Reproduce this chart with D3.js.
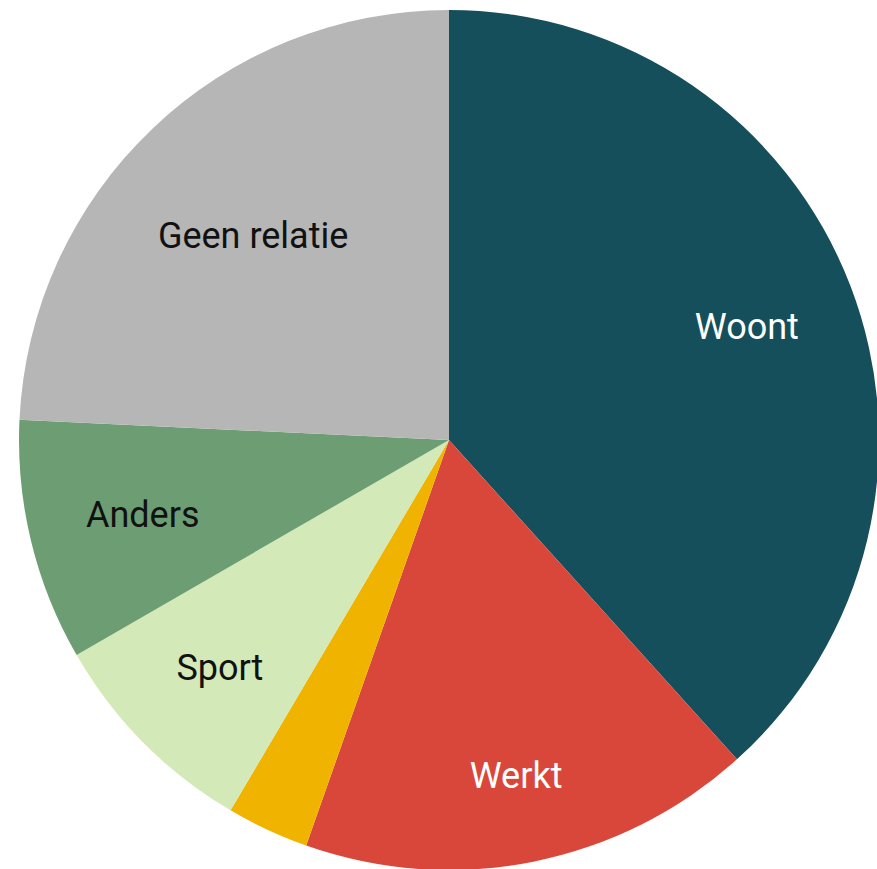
<!DOCTYPE html>
<html>
<head>
<meta charset="utf-8">
<script src="https://cdn.jsdelivr.net/npm/d3@7"></script>
<style>
  html, body { margin: 0; padding: 0; background: #ffffff; }
  svg { display: block; }
</style>
</head>
<body>
<svg id="chart" width="877" height="869"></svg>
<script>
// Data (clockwise from 12 o'clock)
const categories = ["Woont", "Werkt", "Overig", "Sport", "Anders", "Geen relatie"];
const values = [38.4, 17.1, 3.1, 8.2, 9.1, 24.3];
const labels = ["Woont", "Werkt", "", "Sport", "Anders", "Geen relatie"];
const colors = ["#154f5b", "#d9473a", "#f0b400", "#d4e9b8", "#6d9e73", "#b6b6b6"];
const labelColors = ["#ffffff", "#ffffff", "#000000", "#111111", "#111111", "#111111"];

// Layout
const width = 877, height = 869;
const cx = 449, cy = 440, R = 430;
const labelRadiusFactor = [0.742, 0.795, 0.74, 0.75, 0.733, 0.66];

const svg = d3.select("#chart");
const g = svg.append("g").attr("transform", `translate(${cx},${cy})`);

const data = categories.map((c, i) => ({ category: c, value: values[i], label: labels[i], i }));

const pie = d3.pie().value(d => d.value).sort(null);
const arcs = pie(data);
const arc = d3.arc().innerRadius(0).outerRadius(R);

g.selectAll("path.slice")
  .data(arcs)
  .join("path")
  .attr("class", "slice")
  .attr("d", arc)
  .attr("fill", d => colors[d.data.i]);

g.selectAll("text.label")
  .data(arcs.filter(d => d.data.label))
  .join("text")
  .attr("class", "label")
  .attr("transform", d => {
    const r = R * labelRadiusFactor[d.data.i];
    const a = (d.startAngle + d.endAngle) / 2;
    return `translate(${r * Math.sin(a)},${-r * Math.cos(a)})`;
  })
  .attr("text-anchor", "middle")
  .attr("dy", "0.36em")
  .attr("fill", d => labelColors[d.data.i])
  .style("font-family", "Roboto, 'Noto Sans', sans-serif")
  .style("font-size", "36px")
  .text(d => d.data.label);
</script>
</body>
</html>
